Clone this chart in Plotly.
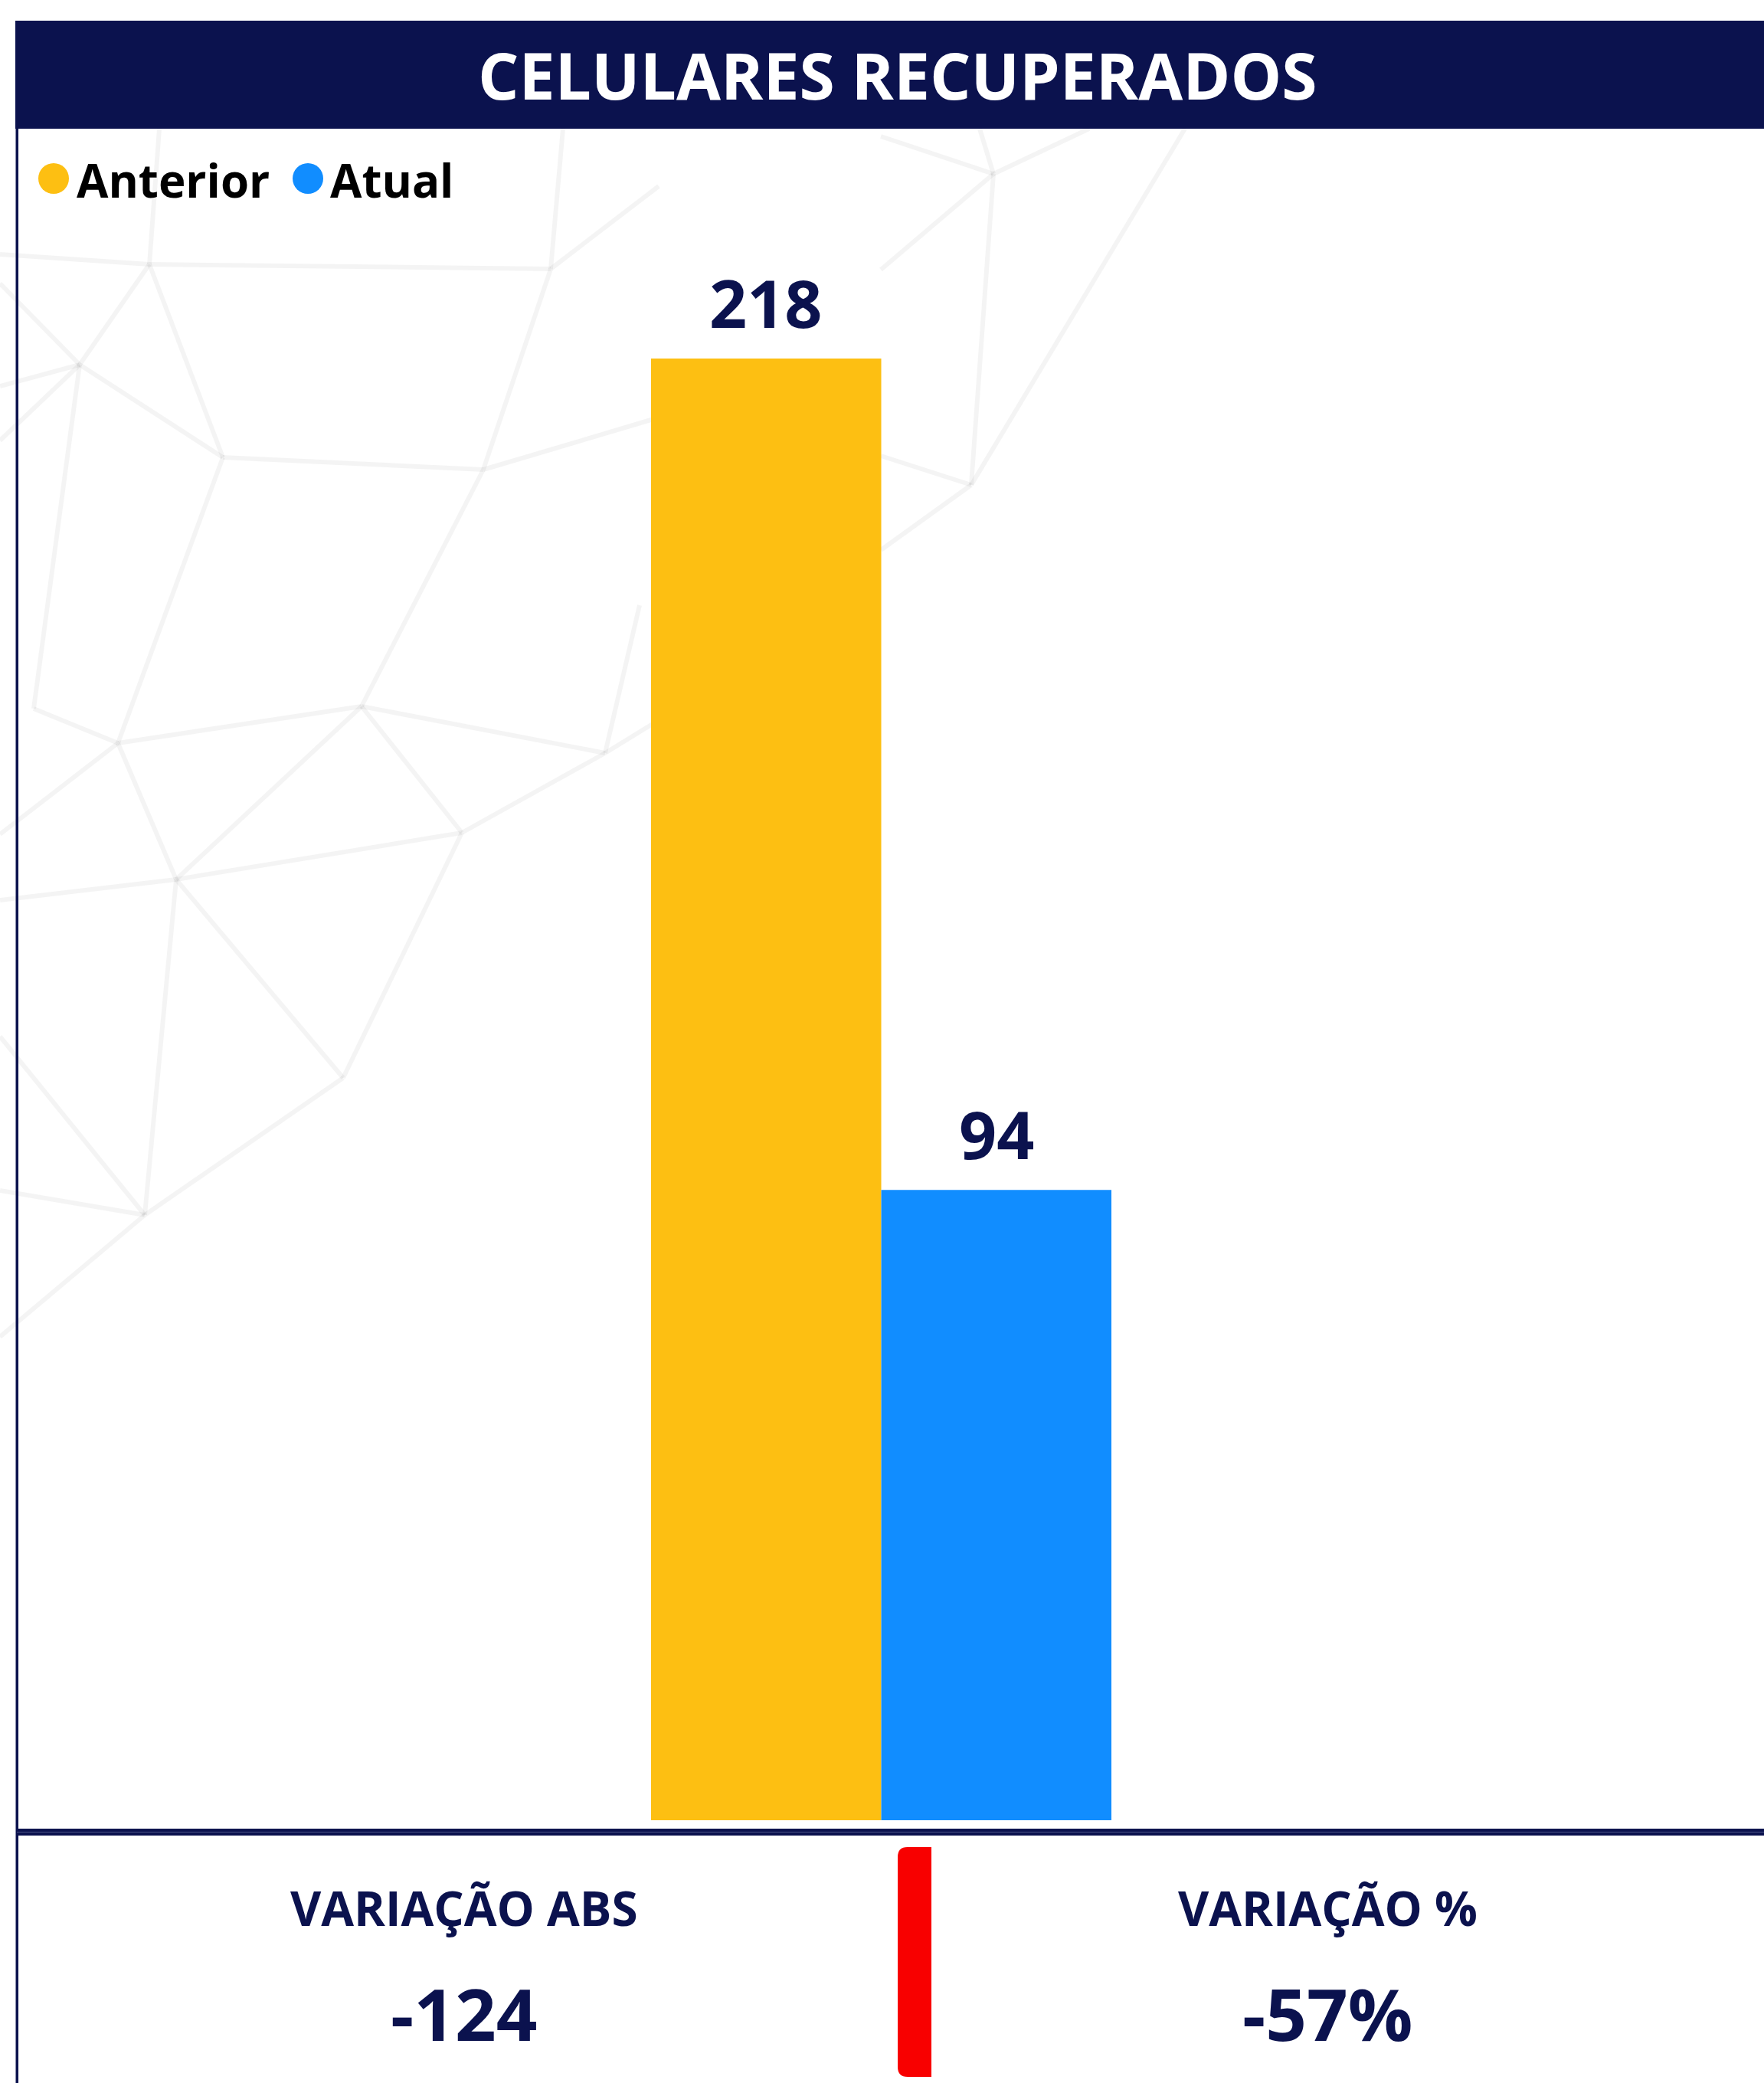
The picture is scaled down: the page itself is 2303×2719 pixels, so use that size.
import plotly.graph_objects as go

# ---------------- data ----------------
title_text = "CELULARES RECUPERADOS"
category = ["Celulares recuperados"]
series_names = ["Anterior", "Atual"]
series_values = [218, 94]
series_colors = ["#FDBF12", "#118DFF"]
kpi_titles = ["VARIAÇÃO ABS", "VARIAÇÃO %"]

# ---------------- helpers / style ----------------
W, H = 2303, 2719
NAVY = "#0B124E"
FONT = "Open Sans"


def px(x):
    return x / W


def py(y):
    return 1 - y / H


abs_var = series_values[1] - series_values[0]
pct_var = abs_var / series_values[0] * 100
kpi_values = [f"{abs_var:.0f}", f"{pct_var:.0f}%"]

fig = go.Figure()
for name, val, col in zip(series_names, series_values, series_colors):
    fig.add_trace(go.Bar(x=category, y=[val], name=name, marker_color=col,
                         marker_line_width=0, showlegend=False,
                         hoverinfo="name+y"))

bar_px = 300.5
fig.update_layout(
    width=W, height=H,
    margin=dict(l=0, r=0, t=0, b=0),
    paper_bgcolor="white", plot_bgcolor="rgba(0,0,0,0)",
    barmode="group", bargap=1 - 2 * bar_px / 2301, bargroupgap=0,
    xaxis=dict(domain=[0, 2301 / W], visible=False),
    yaxis=dict(domain=[py(2376), py(180)],
               range=[0, max(series_values) * (2376 - 180) / (2376 - 468)],
               visible=False),
    showlegend=False,
)

shapes = []
annotations = []

# ---------- decorative background mesh ----------
mesh = [
    # upper-left cluster
    ((0, 332), (195, 345)), ((195, 345), (719, 351)), ((104, 476), (195, 345)),
    ((0, 504), (104, 476)), ((0, 370), (104, 476)), ((104, 476), (291, 597)),
    ((195, 345), (291, 597)), ((291, 597), (631, 613)), ((631, 613), (719, 351)),
    ((719, 351), (735, 168)), ((195, 345), (208, 168)), ((719, 351), (860, 243)),
    ((631, 613), (860, 545)), ((104, 476), (44, 925)), ((291, 597), (154, 970)),
    ((631, 613), (472, 922)), ((0, 575), (104, 476)),
    # middle-left cluster
    ((44, 925), (154, 970)), ((154, 970), (472, 922)),
    ((472, 922), (790, 983)), ((790, 983), (603, 1087)), ((472, 922), (603, 1087)),
    ((154, 970), (230, 1148)), ((230, 1148), (603, 1087)), ((230, 1148), (472, 922)),
    ((0, 1175), (230, 1148)), ((230, 1148), (448, 1407)), ((603, 1087), (448, 1407)),
    ((230, 1148), (189, 1586)), ((448, 1407), (189, 1586)), ((189, 1586), (0, 1745)),
    ((189, 1586), (0, 1554)), ((0, 1353), (189, 1586)), ((154, 970), (0, 1089)),
    ((790, 983), (835, 790)), ((790, 983), (860, 940)),
    # right-of-bars cluster
    ((1297, 227), (1268, 633)), ((1297, 227), (1150, 178)), ((1297, 227), (1279, 168)),
    ((1297, 227), (1422, 168)), ((1297, 227), (1150, 352)), ((1268, 633), (1150, 595)),
    ((1268, 633), (1150, 718)), ((1547, 168), (1268, 633)),
]
for (x0, y0), (x1, y1) in mesh:
    shapes.append(dict(type="line", xref="paper", yref="paper", layer="below",
                       x0=px(x0), y0=py(y0), x1=px(x1), y1=py(y1),
                       line=dict(color="rgba(0,0,0,0.045)", width=6)))

# ---------- title bar ----------
shapes.append(dict(type="rect", xref="paper", yref="paper", layer="above",
                   x0=px(20), x1=1, y0=py(168), y1=py(27),
                   fillcolor=NAVY, line_width=0))
annotations.append(dict(text=title_text, xref="paper", yref="paper",
                        x=px(1172), y=py(98), xanchor="center", yanchor="middle",
                        showarrow=False,
                        font=dict(family=FONT, size=84, color="white", weight="bold")))

# ---------- left border ----------
shapes.append(dict(type="rect", xref="paper", yref="paper", layer="above",
                   x0=px(20.5), x1=px(24), y0=0, y1=py(168),
                   fillcolor=NAVY, line_width=0))

# ---------- legend (manual, circles) ----------
legend_pos = [(70, 102), (402, 433)]
for (cx, tx), name, col in zip(legend_pos, series_names, series_colors):
    r = 20
    shapes.append(dict(type="circle", xref="paper", yref="paper", layer="above",
                       x0=px(cx - r), x1=px(cx + r), y0=py(233 + r), y1=py(233 - r),
                       fillcolor=col, line_width=0))
    annotations.append(dict(text=name, xref="paper", yref="paper",
                            x=px(tx - 4), y=py(235), xanchor="left", yanchor="middle",
                            showarrow=False,
                            font=dict(family=FONT, size=60, color="black", weight="bold")))

# ---------- bar value labels ----------
for i, val in enumerate(series_values):
    annotations.append(dict(text=f"{val}", x=category[0], y=val, xref="x", yref="y",
                            xshift=(i - 0.5) * bar_px, yshift=13,
                            xanchor="center", yanchor="bottom", showarrow=False,
                            font=dict(family=FONT, size=86, color=NAVY, weight="bold")))

# ---------- double separator line ----------
shapes.append(dict(type="rect", xref="paper", yref="paper", layer="above",
                   x0=px(22), x1=1, y0=py(2396), y1=py(2387),
                   fillcolor=NAVY, line_width=0))
shapes.append(dict(type="rect", xref="paper", yref="paper", layer="above",
                   x0=px(22), x1=1, y0=py(2392), y1=py(2391),
                   fillcolor="#4A5285", line_width=0))

# ---------- red divider (rounded left corners) ----------
xl, xr, yt, yb, rr = 1172, 1216, 2411, 2711, 13
path = (f"M {px(xr)},{py(yt)} L {px(xl + rr)},{py(yt)} "
        f"Q {px(xl)},{py(yt)} {px(xl)},{py(yt + rr)} "
        f"L {px(xl)},{py(yb - rr)} Q {px(xl)},{py(yb)} {px(xl + rr)},{py(yb)} "
        f"L {px(xr)},{py(yb)} Z")
shapes.append(dict(type="path", xref="paper", yref="paper", layer="above",
                   path=path, fillcolor="#F80000", line_width=0))

# ---------- KPI texts ----------
kpi_x = [606, 1733]
for kx, t, v in zip(kpi_x, kpi_titles, kpi_values):
    annotations.append(dict(text=t, xref="paper", yref="paper", x=px(kx), y=py(2490),
                            xanchor="center", yanchor="middle", showarrow=False,
                            font=dict(family=FONT, size=62, color=NAVY, weight="bold")))
    annotations.append(dict(text=v, xref="paper", yref="paper", x=px(kx), y=py(2628),
                            xanchor="center", yanchor="middle", showarrow=False,
                            font=dict(family=FONT, size=94, color=NAVY, weight="bold")))

fig.update_layout(shapes=shapes, annotations=annotations)
fig.write_html("out.html",
               config={"displayModeBar": False},
               post_script="document.body.style.margin='0';document.body.style.overflow='hidden';")
